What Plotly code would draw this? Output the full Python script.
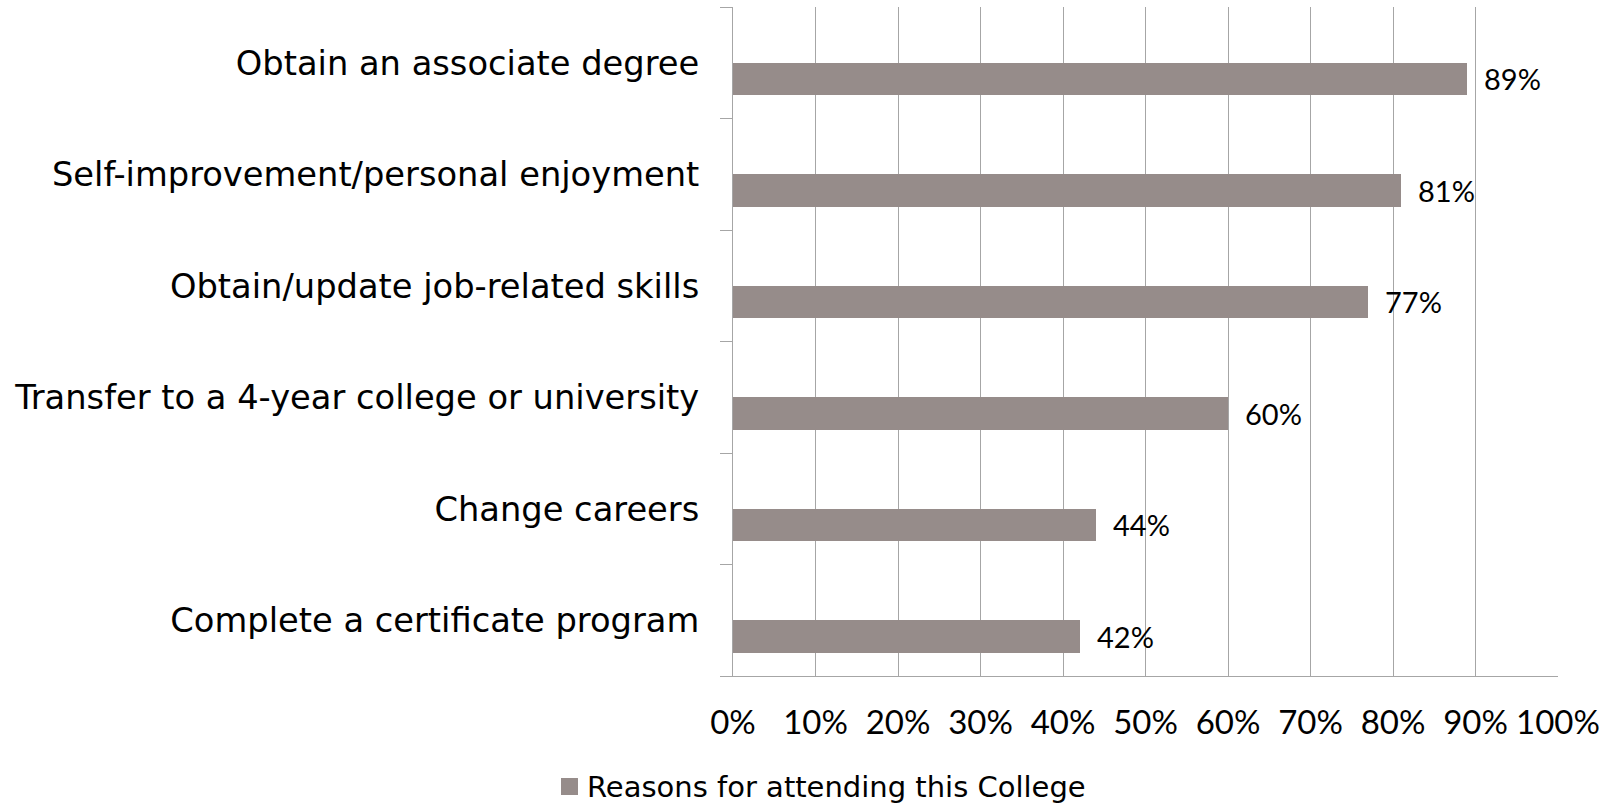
import plotly.graph_objects as go

# Reasons students gave, listed bottom-to-top as drawn on the category axis
reasons = [
    "Complete a certificate program",
    "Change careers",
    "Transfer to a 4-year college or university",
    "Obtain/update job-related skills",
    "Self-improvement/personal enjoyment",
    "Obtain an associate degree",
]
percent = [42, 44, 60, 77, 81, 89]
x_ticks = [0, 10, 20, 30, 40, 50, 60, 70, 80, 90, 100]
x_tick_text = [f"{v}%" for v in x_ticks]
series_name = "Reasons for attending this College"

TEXT_FONT = "DejaVu Sans, sans-serif"
NUM_FONT = "Lato"
BAR = "#968c8a"
GRID = "#a6a6a6"

BAR_W = 0.29      # bar thickness in category units
BAR_OFF = -0.29   # bar sits in the lower half of each category slot

fig = go.Figure()
fig.add_trace(go.Bar(
    x=percent,
    y=reasons,
    orientation="h",
    name=series_name,
    marker=dict(color=BAR, line=dict(width=0)),
    width=BAR_W,
    offset=BAR_OFF,
    showlegend=False,
))

# value labels just past the end of each bar
for v, r in zip(percent, reasons):
    fig.add_annotation(
        x=v, y=r, xref="x", yref="y",
        text=f"{v}%", showarrow=False,
        xanchor="left", yanchor="middle",
        xshift=15, yshift=-16,
        font=dict(family=NUM_FONT, size=29, color="#000000"),
    )

# legend: swatch plus series name below the axis labels
fig.add_shape(
    type="rect", xref="paper", yref="paper",
    x0=-0.2085, x1=-0.1879, y0=-0.1525, y1=-0.1779,
    fillcolor=BAR, line=dict(width=0),
)
fig.add_annotation(
    xref="paper", yref="paper", x=-0.1790, y=-0.1655,
    text=series_name, showarrow=False,
    xanchor="left", yanchor="middle",
    font=dict(family=TEXT_FONT, size=29, color="#000000"),
)

fig.update_layout(
    width=1612,
    height=803,
    margin=dict(l=733, r=54, t=7, b=127),
    paper_bgcolor="white",
    plot_bgcolor="white",
    bargap=0,
    showlegend=False,
    xaxis=dict(
        range=[0, 100],
        tickvals=x_ticks,
        ticktext=x_tick_text,
        showgrid=True,
        gridcolor=GRID,
        gridwidth=1,
        showline=True,
        linecolor=GRID,
        linewidth=1,
        zeroline=False,
        ticks="",
        ticklabelstandoff=17,
        tickfont=dict(family=NUM_FONT, size=33, color="#000000"),
    ),
    yaxis=dict(
        type="category",
        categoryorder="array",
        categoryarray=reasons,
        tickson="boundaries",
        ticks="outside",
        ticklen=12,
        tickcolor=GRID,
        tickwidth=1,
        showline=True,
        linecolor=GRID,
        linewidth=1,
        showgrid=False,
        ticklabelstandoff=26,
        tickfont=dict(family=TEXT_FONT, size=33.7, color="#000000"),
    ),
)

fig.write_html("out.html")
